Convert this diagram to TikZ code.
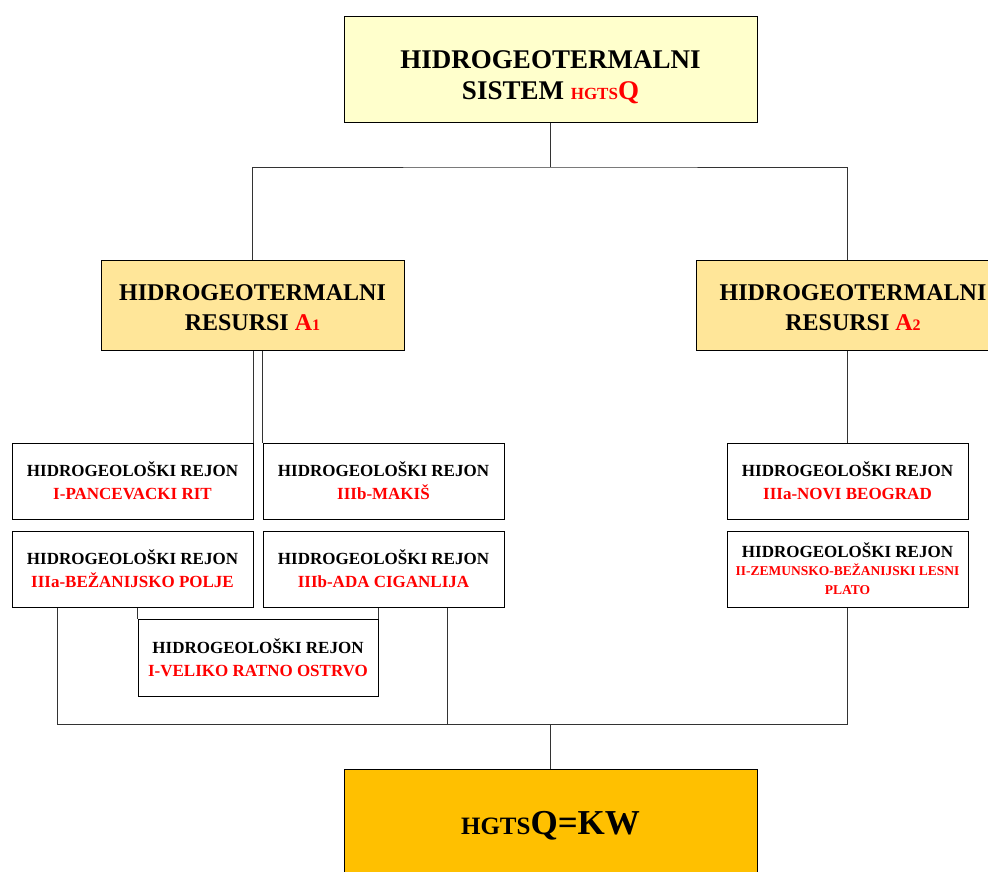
\documentclass[tikz,border=0pt]{standalone}
\usepackage{fontspec}
\setmainfont{Liberation Serif}
\definecolor{sysfill}{HTML}{FFFFCC}
\definecolor{resfill}{HTML}{FFE699}
\definecolor{qfill}{HTML}{FFC000}
\newcommand{\rejon}[1]{HIDROGEOLOŠKI REJON\\\textcolor{red}{#1}}

\begin{document}
\begin{tikzpicture}[x=1pt, y=-1pt, every node/.style={font=\bfseries, align=center, inner sep=0pt},
	box/.style={draw=black, line width=1pt},
	sysbox/.style={box, fill=sysfill, minimum width=413pt, minimum height=106pt, font=\bfseries\fontsize{27}{31.5}\selectfont},
	resbox/.style={box, fill=resfill, minimum width=303pt, minimum height=90pt, font=\bfseries\fontsize{24}{30}\selectfont},
	rejbox/.style={box, fill=white, minimum width=241pt, minimum height=76pt, font=\bfseries\fontsize{17}{23}\selectfont},
	link/.style={draw=black!80, line width=1pt}]
	\clip (0,0) rectangle (988,871);
	% system, resources
	\node[sysbox] (sys) at (550.5,69) {\rule{0pt}{34pt}HIDROGEOTERMALNI\\SISTEM \textcolor{red}{\fontsize{17}{20}\selectfont HGTS}\textcolor{red}{Q}};
	\node[resbox] (resA1) at (252.5,305) {\rule{0pt}{22pt}HIDROGEOTERMALNI\\RESURSI \textcolor{red}{A{\fontsize{16}{20}\selectfont 1}}};
	\node[resbox, minimum width=314pt] (resA2) at (853,305) {\rule{0pt}{22pt}HIDROGEOTERMALNI\\RESURSI \textcolor{red}{A{\fontsize{16}{20}\selectfont 2}}};
	% regions
	\node[rejbox] (pr) at (132.5,481) {\rejon{I-PANCEVACKI RIT}};
	\node[rejbox] (mk) at (383.5,481) {\rejon{IIIb-MAKIŠ}};
	\node[rejbox] (bp) at (132.5,569) {\rejon{IIIa-BEŽANIJSKO POLJE}};
	\node[rejbox] (ac) at (383.5,569) {\rejon{IIIb-ADA CIGANLIJA}};
	\node[rejbox, minimum width=240pt, minimum height=77pt] (vr) at (258,657.5) {\rejon{I-VELIKO RATNO OSTRVO}};
	\node[rejbox] (nb) at (847.5,481) {\rejon{IIIa-NOVI BEOGRAD}};
	\node[rejbox] (zb) at (847.5,569) {HIDROGEOLOŠKI REJON\\[-5pt]\textcolor{red}{\fontsize{13.5}{19}\selectfont II-ZEMUNSKO-BEŽANIJSKI LESNI}\\[-4pt]\textcolor{red}{\fontsize{13.5}{19}\selectfont PLATO}};
	% total
	\node[box, fill=qfill, minimum width=413pt, minimum height=122pt] (tot) at (550.5,830) {{\fontsize{25}{30}\selectfont HGTS}{\fontsize{35}{40}\selectfont Q=KW}\rule[-15pt]{0pt}{0pt}};
	% connectors
	\coordinate (busT) at (550.5,167);
	\coordinate (busB) at (550.5,724);
	\draw[link] (sys.south) -- (busT);
	\draw[link] (resA1.north) |- (busT) -| (resA2.north -| nb.north);
	\draw[link] (pr.north east) -- (pr.north east |- resA1.south);
	\draw[link] (mk.north west) -- (mk.north west |- resA1.south);
	\draw[link] (resA2.south -| nb.north) -- (nb.north);
	\draw[link] (bp.south -| vr.north west) -- (vr.north west);
	\draw[link] (ac.south -| vr.north east) -- (vr.north east);
	\draw[link] ([xshift=-75.5pt]bp.south) |- (busB) -| (zb.south);
	\draw[link] ([xshift=63.5pt]ac.south) -- ([xshift=63.5pt]ac.south |- busB);
	\draw[link] (busB) -- (tot.north);
\end{tikzpicture}
\end{document}
